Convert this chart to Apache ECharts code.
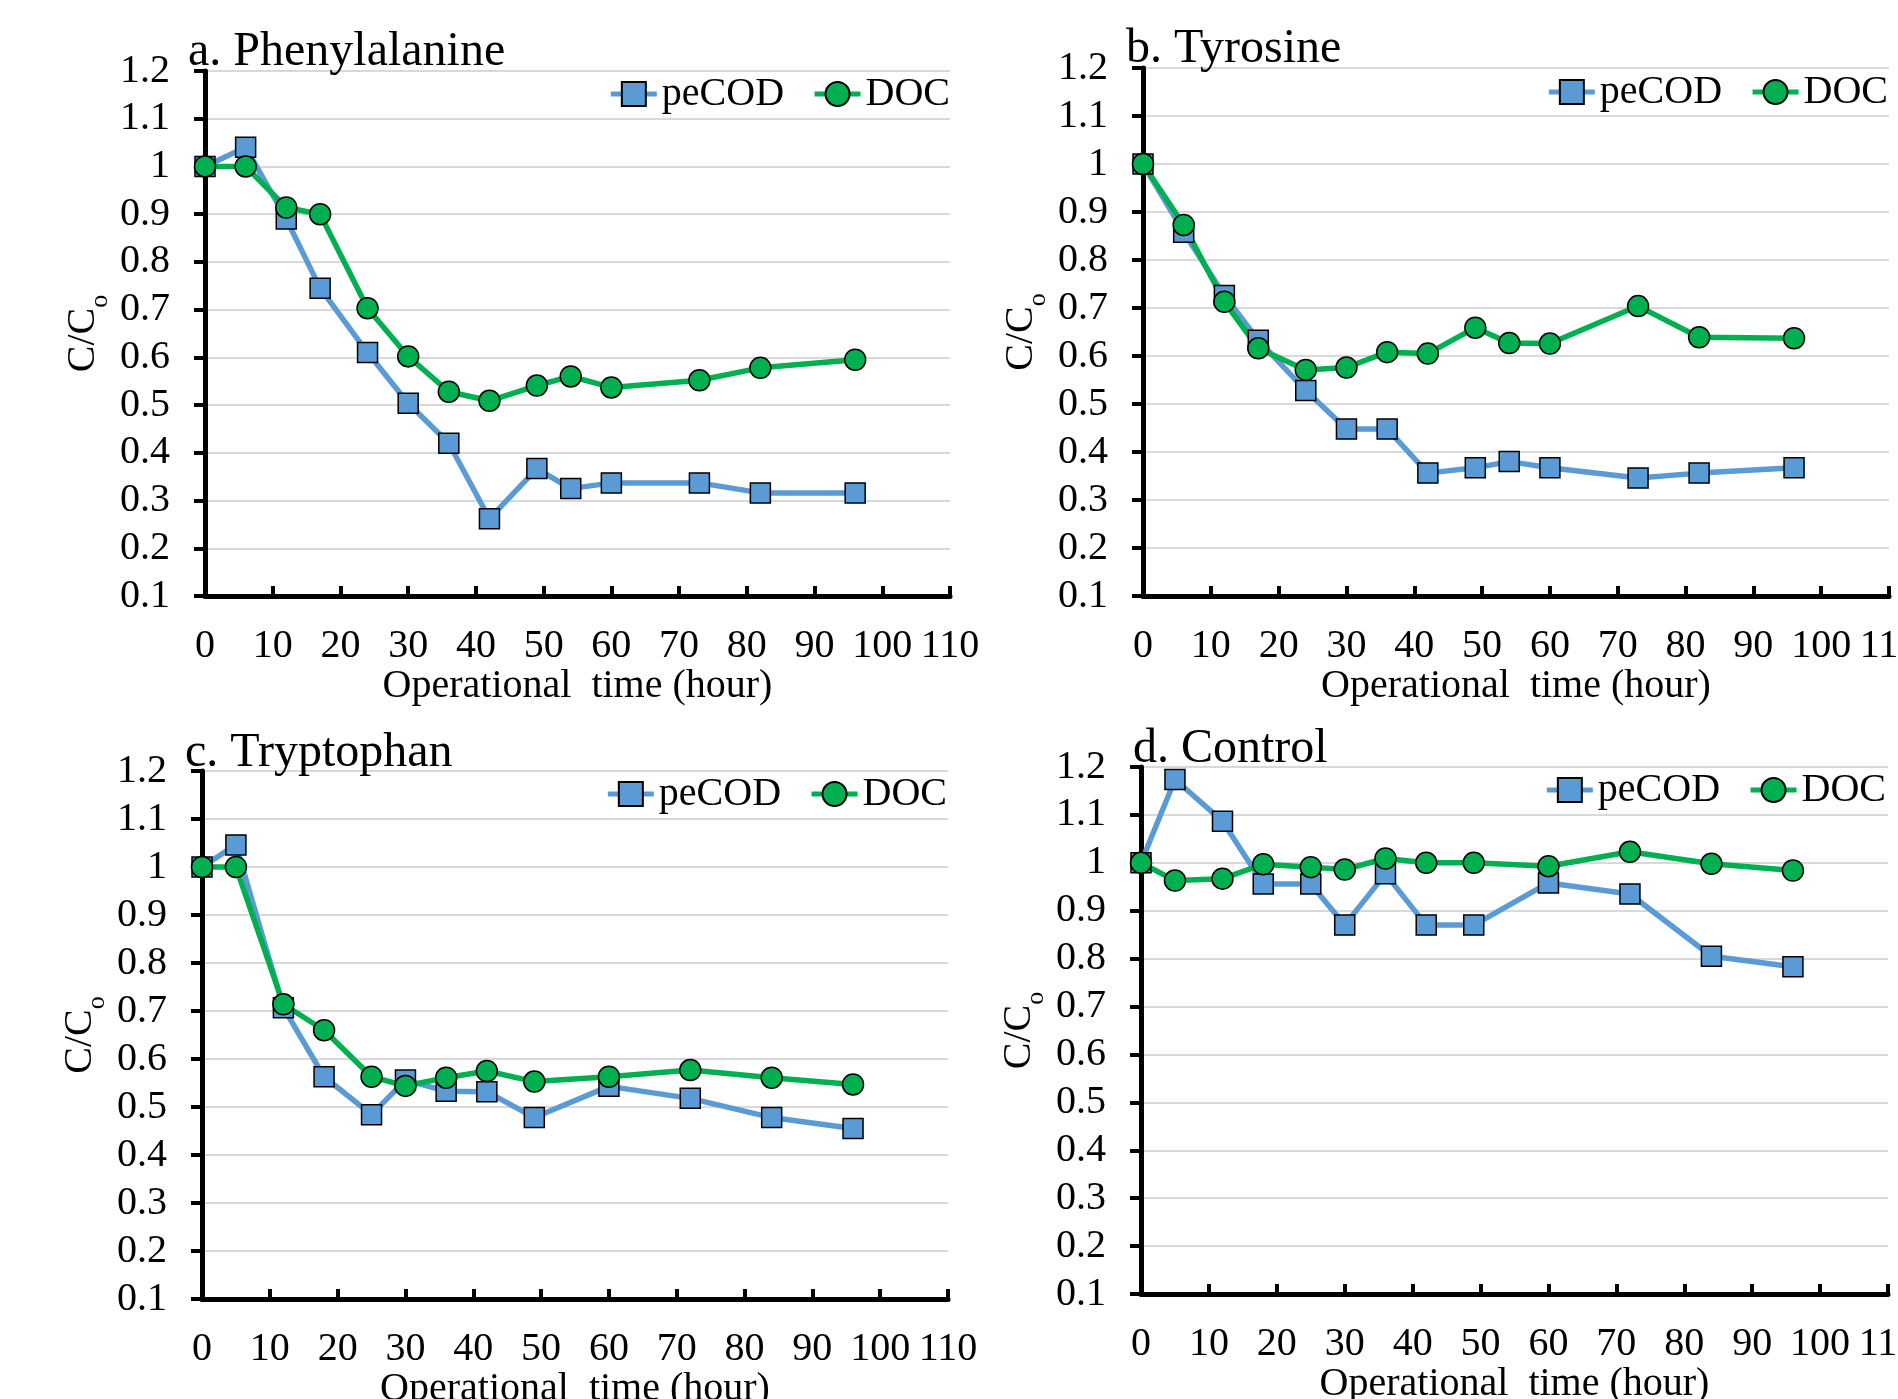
<!DOCTYPE html>
<html>
<head>
<meta charset="utf-8">
<title>C/Co vs operational time</title>
<script src="https://cdn.jsdelivr.net/npm/echarts@6/dist/echarts.min.js"></script>
<style>
  html, body { margin: 0; padding: 0; background: #fff; }
  #chart { width: 1898px; height: 1399px; }
</style>
</head>
<body>
<div id="chart"></div>
<script>
// sampling times (hours)
const timeAB = [0, 6, 12, 17, 24, 30, 36, 42, 49, 54, 60, 73, 82, 96];
const timeCD = [0, 5, 12, 18, 25, 30, 36, 42, 49, 60, 72, 84, 96];

// a. Phenylalanine
const pecodA = [1.0, 1.04, 0.89, 0.745, 0.61, 0.504, 0.42, 0.262, 0.367, 0.325, 0.337, 0.337, 0.316, 0.316];
const docA = [1.0, 1.0, 0.914, 0.9, 0.703, 0.602, 0.528, 0.509, 0.541, 0.56, 0.537, 0.552, 0.578, 0.595];

// b. Tyrosine
const pecodB = [1.0, 0.858, 0.726, 0.633, 0.528, 0.448, 0.448, 0.356, 0.367, 0.38, 0.367, 0.346, 0.356, 0.367];
const docB = [1.0, 0.873, 0.713, 0.616, 0.571, 0.576, 0.608, 0.605, 0.659, 0.627, 0.626, 0.704, 0.639, 0.637];

// c. Tryptophan
const pecodC = [1.0, 1.046, 0.707, 0.563, 0.484, 0.556, 0.533, 0.532, 0.478, 0.543, 0.518, 0.478, 0.455];
const docC = [1.0, 1.0, 0.714, 0.66, 0.563, 0.544, 0.561, 0.575, 0.553, 0.563, 0.577, 0.561, 0.547];

// d. Control
const pecodD = [1.0, 1.174, 1.087, 0.956, 0.956, 0.87, 0.977, 0.87, 0.87, 0.958, 0.935, 0.805, 0.783];
const docD = [1.0, 0.963, 0.967, 0.997, 0.991, 0.986, 1.009, 1.0, 1.0, 0.993, 1.023, 0.998, 0.984];

const titles = ['a. Phenylalanine', 'b. Tyrosine', 'c. Tryptophan', 'd. Control'];
const seriesNames = ['peCOD', 'DOC'];
const xAxisName = 'Operational  time (hour)';
const yAxisName = '{a|C/C}{sub|o}';
const xTicks = { min: 0, max: 110, interval: 10 };
const yTicks = { min: 0.1, max: 1.2, interval: 0.1 };

const panels = [
  { time: timeAB, pecod: pecodA, doc: docA },
  { time: timeAB, pecod: pecodB, doc: docB },
  { time: timeCD, pecod: pecodC, doc: docC },
  { time: timeCD, pecod: pecodD, doc: docD }
];

const font = "'Liberation Serif', 'Times New Roman', serif";
const blue = '#5b9bd5';
const green = '#00b050';

// plot areas, legend anchors and title spots for the 2x2 layout
const grids = [
  { left: 205, top: 71, width: 745, height: 525 },
  { left: 1143, top: 68, width: 746, height: 528 },
  { left: 202, top: 771, width: 746, height: 528 },
  { left: 1141, top: 767, width: 747, height: 527 }
];
const legendPos = [
  { right: 948, top: 74 },
  { right: 10, top: 72 },
  { right: 951, top: 774 },
  { right: 12, top: 770 }
];
const titlePos = [
  { left: 188, top: 28 },
  { left: 1126, top: 25 },
  { left: 185, top: 729 },
  { left: 1133, top: 725 }
];

const chart = echarts.init(document.getElementById('chart'));

const pairs = (xs, ys) => xs.map((x, i) => [x, ys[i]]);

const option = {
  animation: false,
  backgroundColor: '#fff',
  title: titles.map((t, i) => ({
    text: t,
    left: titlePos[i].left,
    top: titlePos[i].top,
    padding: 0,
    textStyle: { fontFamily: font, fontSize: 48, fontWeight: 'normal', color: '#000' }
  })),
  legend: grids.map((g, i) => ({
    data: seriesNames,
    right: legendPos[i].right,
    top: legendPos[i].top,
    padding: 0,
    itemWidth: 46,
    itemHeight: 30,
    itemGap: 28,
    selectedMode: false,
    lineStyle: { width: 5 },
    textStyle: { fontFamily: font, fontSize: 40, color: '#000' }
  })),
  // keep the exact plot boxes, let the last x label run off the page edge
  grid: grids.map(g => ({ ...g, outerBoundsMode: 'none' })),
  xAxis: grids.map((g, i) => ({
    type: 'value',
    gridIndex: i,
    min: xTicks.min,
    max: xTicks.max,
    interval: xTicks.interval,
    name: xAxisName,
    nameLocation: 'middle',
    nameGap: 66,
    nameTextStyle: { fontFamily: font, fontSize: 40, color: '#000' },
    axisLine: { onZero: false, lineStyle: { color: '#000', width: 5 } },
    axisTick: { inside: true, length: 10, lineStyle: { color: '#000', width: 4 } },
    axisLabel: {
      margin: 30,
      fontFamily: font,
      fontSize: 40,
      color: '#000',
      showMaxLabel: true
    },
    splitLine: { show: false }
  })),
  yAxis: grids.map((g, i) => ({
    type: 'value',
    gridIndex: i,
    min: yTicks.min,
    max: yTicks.max,
    interval: yTicks.interval,
    name: yAxisName,
    nameLocation: 'middle',
    nameGap: 92,
    nameTextStyle: {
      color: '#000',
      rich: {
        a: { fontFamily: font, fontSize: 40, color: '#000', padding: [0, 0, 10, 0], verticalAlign: 'bottom' },
        sub: { fontFamily: font, fontSize: 26, color: '#000', verticalAlign: 'bottom' }
      }
    },
    axisLine: { onZero: false, lineStyle: { color: '#000', width: 5 } },
    axisTick: { inside: false, length: 11, lineStyle: { color: '#000', width: 4 } },
    axisLabel: {
      margin: 35,
      fontFamily: font,
      fontSize: 40,
      color: '#000',
      formatter: v => String(+v.toFixed(1))
    },
    splitLine: { show: true, lineStyle: { color: '#d9d9d9', width: 2 } }
  })),
  series: panels.flatMap((p, i) => [
    {
      name: 'peCOD',
      type: 'line',
      xAxisIndex: i,
      yAxisIndex: i,
      data: pairs(p.time, p.pecod),
      symbol: 'rect',
      symbolSize: 20,
      lineStyle: { color: blue, width: 5.5 },
      itemStyle: { color: blue, borderColor: '#000', borderWidth: 1.5 }
    },
    {
      name: 'DOC',
      type: 'line',
      xAxisIndex: i,
      yAxisIndex: i,
      data: pairs(p.time, p.doc),
      symbol: 'circle',
      symbolSize: 21,
      lineStyle: { color: green, width: 5.5 },
      itemStyle: { color: green, borderColor: '#000', borderWidth: 1.5 }
    }
  ])
};

chart.setOption(option);
</script>
</body>
</html>
